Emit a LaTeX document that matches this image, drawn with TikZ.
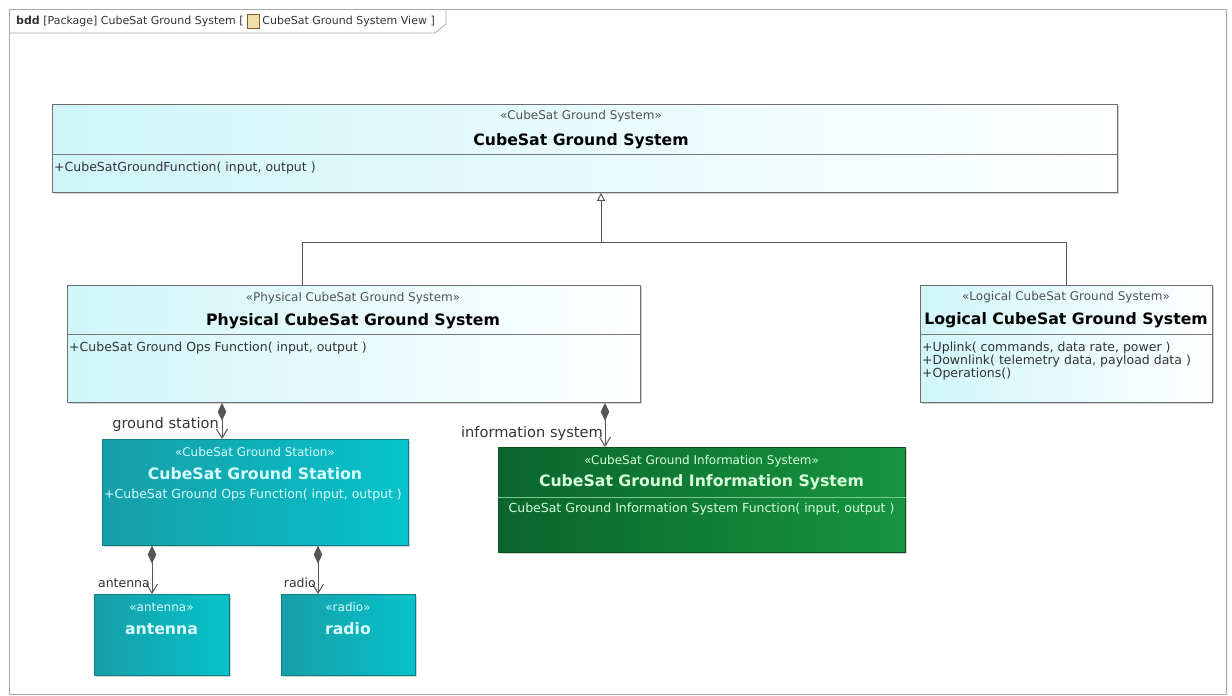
\documentclass[tikz,border=0pt]{standalone}
\usepackage{fontspec}
\setmainfont{DejaVu Sans}
\usetikzlibrary{arrows.meta,shadows,positioning}
\definecolor{framegray}{HTML}{A8A8A8}
\definecolor{lcyan}{HTML}{D0F6FA}
\definecolor{teal1}{HTML}{179EA8}
\definecolor{teal2}{HTML}{06C2CA}
\definecolor{green1}{HTML}{0A662C}
\definecolor{green2}{HTML}{179441}
\definecolor{tealtxt}{HTML}{D8FCFF}
\definecolor{greentxt}{HTML}{D8FFDA}
\definecolor{linegray}{HTML}{555555}
\definecolor{txtgray}{HTML}{333333}
\tikzset{
  shad/.style={drop shadow={opacity=0.35,shadow xshift=2pt,shadow yshift=-2pt}},
  blockL/.style={draw=linegray!85, line width=0.8pt, left color=lcyan, right color=white, shad, inner sep=0pt, anchor=north west},
  blockT/.style={draw=teal1!80!black, line width=0.6pt, left color=teal1, right color=teal2, shad, inner sep=0pt, anchor=north west},
  blockG/.style={draw=green1!80!black, line width=0.6pt, left color=green1, right color=green2, shad, inner sep=0pt, anchor=north west},
  divider/.style={draw=linegray!80, line width=0.7pt},
  stereo/.style={font=\fontsize{12}{14}\selectfont, text=txtgray!85, inner sep=0pt},
  title/.style={font=\fontsize{15.7}{18}\selectfont\bfseries, text=black, inner sep=0pt},
  op/.style={font=\fontsize{12.5}{14}\selectfont, text=txtgray, inner sep=0pt, anchor=west},
  lbl/.style={font=\fontsize{14.6}{16}\selectfont, text=txtgray, inner sep=0pt, anchor=east},
  slbl/.style={font=\fontsize{12.5}{14}\selectfont, text=txtgray, inner sep=0pt, anchor=east},
  comp/.style={draw=linegray, line width=1pt, {Diamond[length=18pt,width=8.5pt]}-{Straight Barb[length=9pt,width=11pt]}},
  genline/.style={draw=linegray, line width=1pt},
  gen/.style={draw=linegray, line width=1pt, -{Triangle[open,length=8pt,width=8pt,fill=white]}},
  hdr/.style={font=\fontsize{11}{13}\selectfont, text=txtgray, anchor=west, inner sep=0pt},
}
\begin{document}
\begin{tikzpicture}[x=1pt,y=-1pt]
\useasboundingbox (0,0) rectangle (1232,696);
% frame
\draw[framegray, line width=1pt] (9,9) rectangle (1226,694);
\draw[framegray, line width=0.8pt] (9,33) -- (435,33) -- (446,24) -- (446,9);
\node[hdr] (hdr1) at (16,21) {\textbf{bdd} [Package] CubeSat Ground System [};
\node[draw=brown!70!black, fill=yellow!40!brown!40, minimum width=12pt, minimum height=14pt, inner sep=0pt, right=3pt of hdr1] (icon) {};
\node[hdr, right=3pt of icon] (hdr2) {CubeSat Ground System View ]};

% top block
\node[blockL, minimum width=1065pt, minimum height=88pt] (top) at (52,104) {};
\draw[divider] ([yshift=-50pt]top.north west) -- ([yshift=-50pt]top.north east);
\node[stereo] (topst) at (581,116) {«CubeSat Ground System»};
\node[title] (topt) at (581,141) {CubeSat Ground System};
\node[op] (topop) at (54,168) {+CubeSatGroundFunction( input, output )};

% physical
\node[blockL, minimum width=573pt, minimum height=117pt] (phys) at (67,285) {};
\draw[divider] ([yshift=-49pt]phys.north west) -- ([yshift=-49pt]phys.north east);
\node[stereo] (physst) at (353,298) {«Physical CubeSat Ground System»};
\node[title] (physt) at (353,321) {Physical CubeSat Ground System};
\node[op] (physop) at (69,348) {+CubeSat Ground Ops Function( input, output )};

% logical
\node[blockL, minimum width=292pt, minimum height=117pt] (log) at (920,285) {};
\draw[divider] ([yshift=-49pt]log.north west) -- ([yshift=-49pt]log.north east);
\node[stereo] (logst) at (1066,297) {«Logical CubeSat Ground System»};
\node[title] (logt) at (1066,320) {Logical CubeSat Ground System};
\node[op] (logop1) at (922,348) {+Uplink( commands, data rate, power )};
\node[op] (logop2) at (922,361) {+Downlink( telemetry data, payload data )};
\node[op] (logop3) at (922,374) {+Operations()};

% generalization
\coordinate (gj) at (601,242);
\coordinate (pj) at ([xshift=235pt]phys.north west);
\draw[genline] (pj) -- (pj |- gj) -- (log.north |- gj) -- (log.north);
\draw[gen] (gj) -- (gj |- top.south);

% ground station
\node[blockT, minimum width=306pt, minimum height=106pt] (gs) at (102,439) {};
\node[stereo, text=tealtxt] (gsst) at (255,452) {«CubeSat Ground Station»};
\node[title, text=tealtxt] (gst) at (255,474) {CubeSat Ground Station};
\node[op, text=tealtxt] (gsop) at (104,495) {+CubeSat Ground Ops Function( input, output )};

% information system
\node[blockG, minimum width=407pt, minimum height=105pt] (inf) at (498,447) {};
\draw[draw=greentxt!50!green2, line width=0.5pt] ([yshift=-50pt]inf.north west) -- ([yshift=-50pt]inf.north east);
\node[stereo, text=greentxt] (infst) at (701.5,461) {«CubeSat Ground Information System»};
\node[title, text=greentxt] (inft) at (701.5,482) {CubeSat Ground Information System};
\node[op, text=greentxt, anchor=center] (infop) at (701.5,509) {CubeSat Ground Information System Function( input, output )};

% antenna, radio
\node[blockT, minimum width=135pt, minimum height=81pt] (ant) at (94,594) {};
\node[stereo, text=tealtxt] (antst) at (161.5,607) {«antenna»};
\node[title, text=tealtxt] (antt) at (161.5,629) {antenna};
\node[blockT, minimum width=134pt, minimum height=81pt] (rad) at (281,594) {};
\node[stereo, text=tealtxt] (radst) at (348,607) {«radio»};
\node[title, text=tealtxt] (radt) at (348,629) {radio};

% compositions
\coordinate (c1) at ([xshift=120pt]gs.north west);
\draw[comp] (phys.south -| c1) -- (c1);
\node[lbl] (l1) at (219,424) {ground station};
\coordinate (c2) at ([xshift=107pt]inf.north west);
\draw[comp] (phys.south -| c2) -- (c2);
\node[lbl] (l2) at (603,433) {information system};
\coordinate (c3) at ([xshift=58pt]ant.north west);
\draw[comp] (gs.south -| c3) -- (c3);
\node[slbl] (l3) at (150,583) {antenna};
\coordinate (c4) at ([xshift=37pt]rad.north west);
\draw[comp] (gs.south -| c4) -- (c4);
\node[slbl] (l4) at (316,583) {radio};
\end{tikzpicture}
\end{document}
